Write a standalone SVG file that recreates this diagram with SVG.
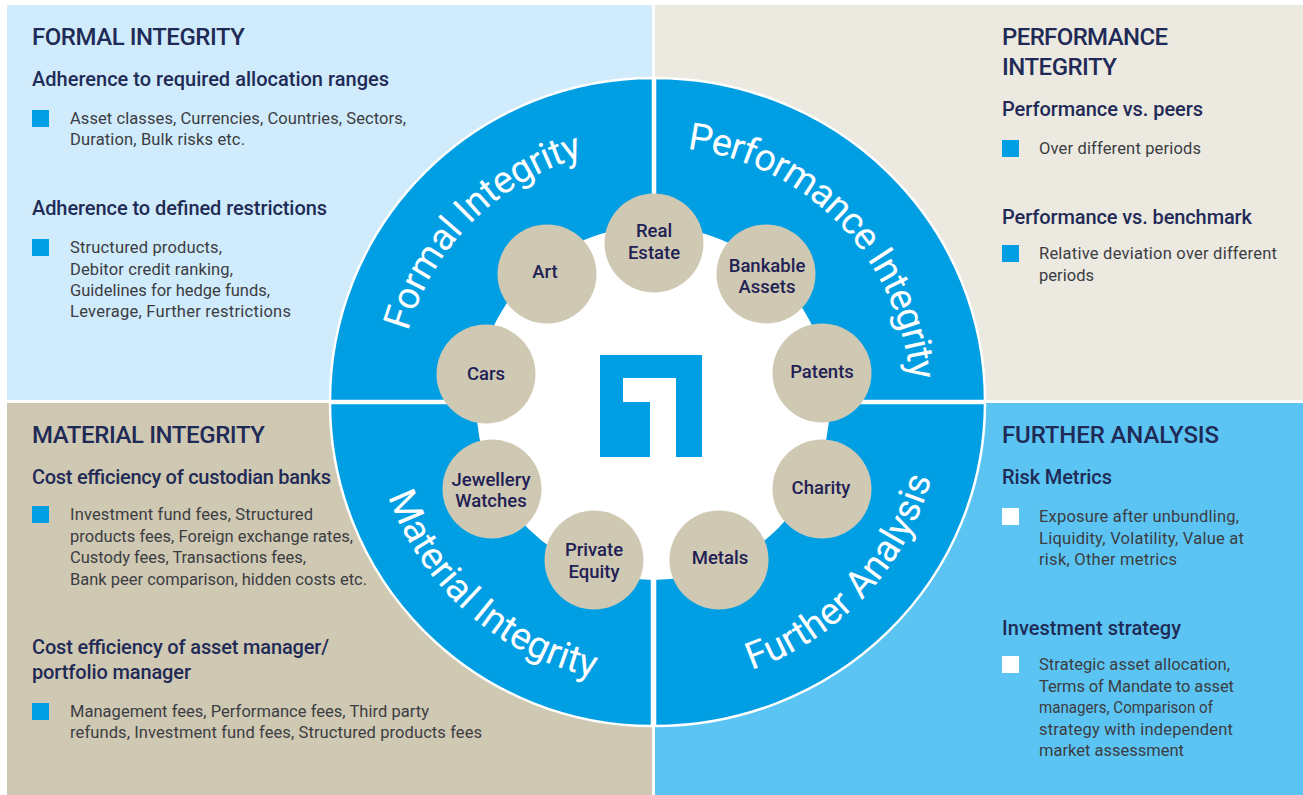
<svg xmlns="http://www.w3.org/2000/svg" width="1303" height="795" viewBox="0 0 1303 795">
<style>
text{font-family:Roboto,"Liberation Sans",sans-serif}
.h{font-size:24px;font-weight:500;fill:#1f2b56}
.s{font-size:20px;font-weight:500;fill:#1f2b56}
.b{font-size:16.5px;fill:#3b3d42}
.n{font-size:18.5px;font-weight:500;fill:#221f55;text-anchor:middle}
.r{font-size:38px;fill:#fff;text-anchor:middle}
.q{fill:#009ee3;stroke:#fff;stroke-width:2.5}
.c{fill:#cfc8b3}
.m{fill:#009ee3}
.w{fill:#fff}
</style>
<defs>
<path id="pTL" d="M398,402A255,255 0 0 1 908,402"/>
<path id="pTR" d="M401,402A255,255 0 0 1 911,402"/>
<path id="pBL" d="M372,402A282,282 0 0 0 936,402"/>
<path id="pBR" d="M374,402A284,284 0 0 0 942,402"/>
</defs>
<rect width="1303" height="795" fill="#fff"/>
<g id="panel-formal">
<rect x="7" y="5" width="645" height="395" fill="#d0ebfc"/>
<text class="h" x="32" y="45" textLength="213">FORMAL INTEGRITY</text>
<text class="s" x="32" y="86" textLength="357">Adherence to required allocation ranges</text>
<rect class="m" x="32" y="110" width="17" height="17"/>
<text class="b" x="70" y="124" textLength="336">Asset classes, Currencies, Countries, Sectors,</text>
<text class="b" x="70" y="145" textLength="175">Duration, Bulk risks etc.</text>
<text class="s" x="32" y="215" textLength="295">Adherence to defined restrictions</text>
<rect class="m" x="32" y="239" width="17" height="17"/>
<text class="b" x="70" y="253" textLength="152">Structured products,</text>
<text class="b" x="70" y="275" textLength="163">Debitor credit ranking,</text>
<text class="b" x="70" y="296" textLength="200">Guidelines for hedge funds,</text>
<text class="b" x="70" y="317" textLength="221">Leverage, Further restrictions</text>
</g>
<g id="panel-performance">
<rect x="655" y="5" width="648" height="395" fill="#ece9e1"/>
<text class="h" x="1002" y="45" textLength="166">PERFORMANCE</text>
<text class="h" x="1002" y="75" textLength="115">INTEGRITY</text>
<text class="s" x="1002" y="116" textLength="201">Performance vs. peers</text>
<rect class="m" x="1002" y="140" width="17" height="17"/>
<text class="b" x="1039" y="154" textLength="162">Over different periods</text>
<text class="s" x="1002" y="224" textLength="250">Performance vs. benchmark</text>
<rect class="m" x="1002" y="245" width="17" height="17"/>
<text class="b" x="1039" y="259" textLength="238">Relative deviation over different</text>
<text class="b" x="1039" y="281" textLength="55">periods</text>
</g>
<g id="panel-material">
<rect x="7" y="403" width="645" height="392" fill="#cfc8b3"/>
<text class="h" x="32" y="443" textLength="233">MATERIAL INTEGRITY</text>
<text class="s" x="32" y="484" textLength="299">Cost efficiency of custodian banks</text>
<rect class="m" x="32" y="506" width="17" height="17"/>
<text class="b" x="70" y="520" textLength="243">Investment fund fees, Structured</text>
<text class="b" x="70" y="542" textLength="283">products fees, Foreign exchange rates,</text>
<text class="b" x="70" y="563" textLength="236">Custody fees, Transactions fees,</text>
<text class="b" x="70" y="585" textLength="297">Bank peer comparison, hidden costs etc.</text>
<text class="s" x="32" y="654" textLength="297">Cost efficiency of asset manager/</text>
<text class="s" x="32" y="679" textLength="159">portfolio manager</text>
<rect class="m" x="32" y="703" width="17" height="17"/>
<text class="b" x="70" y="717" textLength="359">Management fees, Performance fees, Third party</text>
<text class="b" x="70" y="738" textLength="412">refunds, Investment fund fees, Structured products fees</text>
</g>
<g id="panel-further">
<rect x="655" y="403" width="648" height="392" fill="#5bc4f3"/>
<text class="h" x="1002" y="443" textLength="217">FURTHER ANALYSIS</text>
<text class="s" x="1002" y="484" textLength="110">Risk Metrics</text>
<rect class="w" x="1002" y="508" width="17" height="17"/>
<text class="b" x="1039" y="522" textLength="200">Exposure after unbundling,</text>
<text class="b" x="1039" y="544" textLength="205">Liquidity, Volatility, Value at</text>
<text class="b" x="1039" y="565" textLength="138">risk, Other metrics</text>
<text class="s" x="1002" y="635" textLength="179">Investment strategy</text>
<rect class="w" x="1002" y="656" width="17" height="17"/>
<text class="b" x="1039" y="670" textLength="191">Strategic asset allocation,</text>
<text class="b" x="1039" y="692" textLength="195">Terms of Mandate to asset</text>
<text class="b" x="1039" y="713" textLength="174" lengthAdjust="spacingAndGlyphs">managers, Comparison of</text>
<text class="b" x="1039" y="735" textLength="194">strategy with independent</text>
<text class="b" x="1039" y="756" textLength="145">market assessment</text>
</g>
<g id="ring">
<path class="q" d="M653,401V78A323,323 0 0 0 330,401Z"/>
<path class="q" d="M655,401V78A330,323 0 0 1 985,401Z"/>
<path class="q" d="M652,403V726A322,323 0 0 1 330,403Z"/>
<path class="q" d="M655,403V726A330,323 0 0 0 985,403Z"/>
<circle cx="653" cy="403" r="177" fill="#fff"/>
<text class="r" letter-spacing="-0.5"><textPath href="#pTL" startOffset="25%">Formal Integrity</textPath></text>
<text class="r" letter-spacing="-1"><textPath href="#pTR" startOffset="75.5%">Performance Integrity</textPath></text>
<text class="r"><textPath href="#pBL" startOffset="27%">Material Integrity</textPath></text>
<text class="r"><textPath href="#pBR" startOffset="76%">Further Analysis</textPath></text>
</g>
<g id="logo"><path class="m" fill-rule="evenodd" d="M600,355H702V457H676V378H623V402H650V457H600Z"/></g>
<g id="connectors"></g>
<g id="node-real-estate"><circle class="c" cx="654" cy="243" r="49.5"/><text class="n" x="654" y="237">Real</text><text class="n" x="654" y="259">Estate</text></g>
<g id="node-art"><circle class="c" cx="547" cy="274" r="49.5"/><text class="n" x="545" y="278">Art</text></g>
<g id="node-cars"><circle class="c" cx="486" cy="374" r="49.5"/><text class="n" x="486" y="380">Cars</text></g>
<g id="node-bankable"><circle class="c" cx="766" cy="274" r="49.5"/><text class="n" x="767" y="272">Bankable</text><text class="n" x="767" y="293">Assets</text></g>
<g id="node-patents"><circle class="c" cx="822" cy="373" r="49.5"/><text class="n" x="822" y="378">Patents</text></g>
<g id="node-jewellery"><circle class="c" cx="492" cy="489" r="49.5"/><text class="n" x="491" y="486">Jewellery</text><text class="n" x="491" y="507">Watches</text></g>
<g id="node-private"><circle class="c" cx="594" cy="560" r="49.5"/><text class="n" x="594" y="556">Private</text><text class="n" x="594" y="578">Equity</text></g>
<g id="node-metals"><circle class="c" cx="719" cy="560" r="49.5"/><text class="n" x="720" y="564">Metals</text></g>
<g id="node-charity"><circle class="c" cx="822" cy="489" r="49.5"/><text class="n" x="821" y="494">Charity</text></g>
</svg>
